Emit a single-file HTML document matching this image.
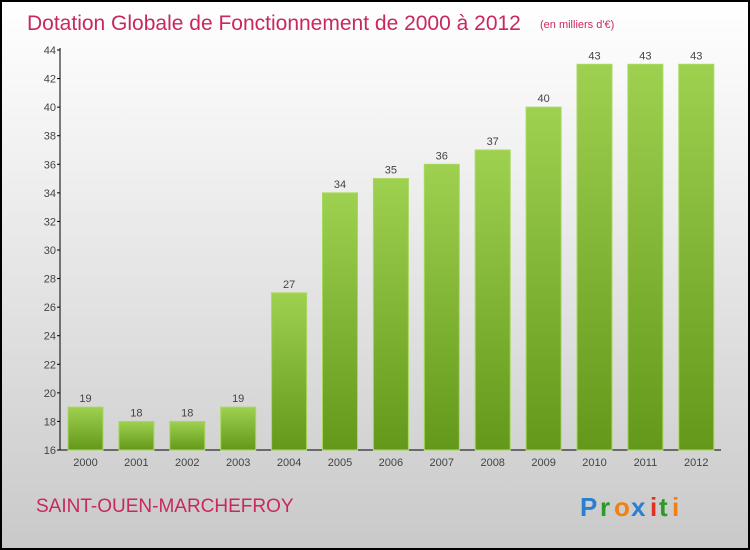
<!DOCTYPE html>
<html><head><meta charset="utf-8"><style>
body{margin:0;}
#c{width:750px;height:550px;position:relative;box-sizing:border-box;border:2px solid #000;background:linear-gradient(#fff,#f0f0f0 30%,#c9c9c9);font-family:"Liberation Sans",sans-serif;overflow:hidden}
</style></head><body>
<div id="c">
<svg width="750" height="550" style="position:absolute;left:-2px;top:-2px">
<defs><linearGradient id="g" x1="0" y1="0" x2="0" y2="1"><stop offset="0" stop-color="#9fd150"/><stop offset="1" stop-color="#63981a"/></linearGradient></defs>
<text x="27" y="30" font-size="21" fill="#c8285f">Dotation Globale de Fonctionnement de 2000 à 2012</text>
<text x="540" y="28" font-size="11" fill="#c8285f">(en milliers d'€)</text>
<g id="plot"></g>
<text x="36" y="512" font-size="19" fill="#c8285f">SAINT-OUEN-MARCHEFROY</text>
<g font-size="26" font-weight="bold"><text x="580" y="516" fill="#2a7fd0">P</text><text x="600" y="516" fill="#2a9a2a">r</text><text x="614" y="516" fill="#f08010">o</text><text x="631" y="516" fill="#2a7fd0">x</text><text x="650" y="516" fill="#e03020">i</text><text x="659" y="516" fill="#2a9a2a">t</text><text x="672" y="516" fill="#f08010">i</text></g>
</svg>
</div>
<script>
const years=["2000","2001","2002","2003","2004","2005","2006","2007","2008","2009","2010","2011","2012"];
const values=[19,18,18,19,27,34,35,36,37,40,43,43,43];
const yTicks=[16,18,20,22,24,26,28,30,32,34,36,38,40,42,44];
const NS="http://www.w3.org/2000/svg";
const g=document.getElementById('plot');
const y=v=>450-(v-16)*(400/28);
const x=i=>85.5+i*50.9;
function mk(t,a){const e=document.createElementNS(NS,t);for(const k in a)e.setAttribute(k,a[k]);g.appendChild(e);return e;}
let ax=mk('line',{x1:60,y1:48,x2:60,y2:450,stroke:'#000'});


let bx=mk('line',{x1:60,y1:450,x2:721,y2:450,stroke:'#000'});


yTicks.forEach(t=>{
 const l=mk('line',{x1:57,x2:60,y1:y(t),y2:y(t),stroke:'#000'});
 
 
 const tx=mk('text',{x:56,y:y(t)+4,'font-size':11,'text-anchor':'end',fill:'#444'});
 tx.textContent=t;
 
 
});
years.forEach((yr,i)=>{
 const v=values[i];
 const r=mk('rect',{x:x(i)-17.5,y:y(v),width:35,height:450-y(v),fill:'url(#g)',stroke:'#a8d860','stroke-width':1});
 
 
 const vl=mk('text',{x:x(i),y:y(v)-5,'font-size':11,'text-anchor':'middle',fill:'#444'});
 vl.textContent=v;
 
 
 const xl=mk('text',{x:x(i),y:466,'font-size':11,'text-anchor':'middle',fill:'#444'});
 xl.textContent=yr;
 
 
});
</script>
</body></html>
